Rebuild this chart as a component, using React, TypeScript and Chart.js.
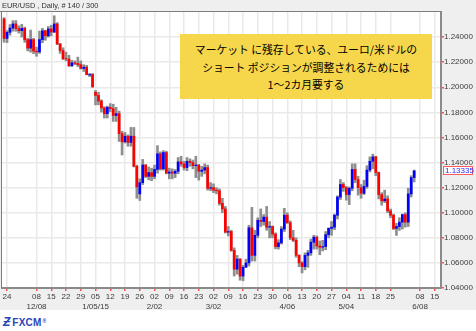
import React, { useEffect, useRef } from "react";
import { Chart, registerables } from "chart.js";

Chart.register(...registerables);

// EUR/USD daily, 140 bars (index 0 = first bar, 5 bars per week)
const opens = [
  1.2545, 1.2389, 1.2438, 1.2472, 1.2505, 1.2468, 1.2451, 1.2470, 1.2380, 1.2312,
  1.2380, 1.2288, 1.2282, 1.2380, 1.2450, 1.2410, 1.2465, 1.2440, 1.2505, 1.2345,
  1.2293, 1.2228, 1.2225, 1.2172, 1.2195, 1.2190, 1.2180, 1.2150, 1.2160, 1.2098,
  1.2102, 1.1960, 1.1935, 1.1890, 1.1835, 1.1790, 1.1840, 1.1830, 1.1775, 1.1790,
  1.1630, 1.1565, 1.1610, 1.1560, 1.1610, 1.1370, 1.1150, 1.1240, 1.1380, 1.1290,
  1.1320, 1.1290, 1.1345, 1.1470, 1.1350, 1.1480, 1.1315, 1.1325, 1.1315, 1.1330,
  1.1405, 1.1390, 1.1360, 1.1410, 1.1400, 1.1375, 1.1380, 1.1330, 1.1340, 1.1360,
  1.1195, 1.1200, 1.1180, 1.1175, 1.1075, 1.1030, 1.0845, 1.0850, 1.0700, 1.0550,
  1.0630, 1.0495, 1.0565, 1.0600, 1.0880, 1.0660, 1.0820, 1.0940, 1.0930, 1.0965,
  1.0885, 1.0890, 1.0830, 1.0730, 1.0760, 1.0870, 1.0980, 1.0920, 1.0800, 1.0780,
  1.0660, 1.0600, 1.0570, 1.0660, 1.0680, 1.0765, 1.0805, 1.0735, 1.0725, 1.0730,
  1.0825, 1.0875, 1.0885, 1.0980, 1.1125, 1.1225, 1.1200, 1.1145, 1.1195, 1.1345,
  1.1265, 1.1200, 1.1155, 1.1210, 1.1340, 1.1410, 1.1445, 1.1320, 1.1145, 1.1095,
  1.1110, 1.1015, 1.0980, 1.0875, 1.0890, 1.0925, 1.0985, 1.0925, 1.1150, 1.1280,
];

const highs = [
  1.2555, 1.2452, 1.2500, 1.2531, 1.2532, 1.2490, 1.2502, 1.2480, 1.2390, 1.2456,
  1.2390, 1.2320, 1.2448, 1.2470, 1.2455, 1.2485, 1.2494, 1.2570, 1.2515, 1.2350,
  1.2315, 1.2280, 1.2255, 1.2215, 1.2210, 1.2240, 1.2210, 1.2180, 1.2175, 1.2110,
  1.2110, 1.1975, 1.1960, 1.1900, 1.1845, 1.1850, 1.1870, 1.1865, 1.1840, 1.1810,
  1.1650, 1.1640, 1.1620, 1.1680, 1.1680, 1.1380, 1.1270, 1.1425, 1.1385, 1.1365,
  1.1355, 1.1380, 1.1535, 1.1485, 1.1495, 1.1490, 1.1355, 1.1350, 1.1345, 1.1440,
  1.1450, 1.1410, 1.1440, 1.1430, 1.1420, 1.1450, 1.1385, 1.1370, 1.1390, 1.1380,
  1.1240, 1.1230, 1.1200, 1.1190, 1.1115, 1.1050, 1.0890, 1.0860, 1.0720, 1.0660,
  1.0635, 1.0580, 1.0630, 1.0900, 1.1043, 1.0860, 1.0960, 1.1030, 1.0985, 1.1050,
  1.0930, 1.0895, 1.0840, 1.0785, 1.0890, 1.1035, 1.1000, 1.0935, 1.0860, 1.0800,
  1.0665, 1.0610, 1.0680, 1.0700, 1.0790, 1.0820, 1.0815, 1.0775, 1.0780, 1.0850,
  1.0880, 1.0930, 1.0990, 1.1135, 1.1265, 1.1240, 1.1210, 1.1205, 1.1390, 1.1390,
  1.1290, 1.1225, 1.1260, 1.1375, 1.1445, 1.1467, 1.1450, 1.1325, 1.1160, 1.1180,
  1.1135, 1.1030, 1.0990, 1.0915, 1.0960, 1.0990, 1.1000, 1.1195, 1.1295, 1.1340,
];

const lows = [
  1.2359, 1.2356, 1.2415, 1.2447, 1.2446, 1.2432, 1.2400, 1.2358, 1.2290, 1.2280,
  1.2268, 1.2247, 1.2270, 1.2355, 1.2375, 1.2400, 1.2410, 1.2436, 1.2340, 1.2270,
  1.2220, 1.2210, 1.2165, 1.2165, 1.2180, 1.2165, 1.2145, 1.2126, 1.2100, 1.2085,
  1.2000, 1.1860, 1.1860, 1.1802, 1.1755, 1.1755, 1.1805, 1.1728, 1.1728, 1.1568,
  1.1460, 1.1555, 1.1530, 1.1530, 1.1365, 1.1115, 1.1098, 1.1225, 1.1280, 1.1262,
  1.1255, 1.1270, 1.1315, 1.1340, 1.1340, 1.1310, 1.1270, 1.1270, 1.1280, 1.1310,
  1.1370, 1.1340, 1.1335, 1.1370, 1.1350, 1.1280, 1.1260, 1.1290, 1.1310, 1.1180,
  1.1175, 1.1160, 1.1150, 1.1060, 1.1000, 1.0838, 1.0815, 1.0693, 1.0495, 1.0510,
  1.0462, 1.0458, 1.0565, 1.0575, 1.0615, 1.0615, 1.0800, 1.0890, 1.0900, 1.0860,
  1.0800, 1.0800, 1.0712, 1.0710, 1.0750, 1.0850, 1.0915, 1.0785, 1.0770, 1.0645,
  1.0570, 1.0520, 1.0545, 1.0565, 1.0660, 1.0710, 1.0710, 1.0665, 1.0695, 1.0705,
  1.0800, 1.0820, 1.0865, 1.0950, 1.1105, 1.1170, 1.1100, 1.1065, 1.1175, 1.1240,
  1.1140, 1.1115, 1.1145, 1.1195, 1.1325, 1.1350, 1.1295, 1.1110, 1.1060, 1.1080,
  1.1000, 1.0960, 1.0865, 1.0819, 1.0860, 1.0870, 1.0885, 1.0890, 1.1125, 1.1245,
];

const closes = [
  1.2389, 1.2438, 1.2472, 1.2505, 1.2468, 1.2451, 1.2470, 1.2380, 1.2312, 1.2380,
  1.2288, 1.2282, 1.2380, 1.2450, 1.2410, 1.2465, 1.2440, 1.2505, 1.2345, 1.2293,
  1.2228, 1.2225, 1.2172, 1.2195, 1.2190, 1.2180, 1.2150, 1.2160, 1.2100, 1.2102,
  1.2003, 1.1935, 1.1890, 1.1835, 1.1790, 1.1840, 1.1830, 1.1775, 1.1790, 1.1630,
  1.1565, 1.1610, 1.1560, 1.1610, 1.1370, 1.1205, 1.1240, 1.1380, 1.1290, 1.1320,
  1.1290, 1.1345, 1.1470, 1.1350, 1.1480, 1.1315, 1.1325, 1.1315, 1.1330, 1.1405,
  1.1390, 1.1360, 1.1410, 1.1400, 1.1375, 1.1380, 1.1330, 1.1340, 1.1360, 1.1195,
  1.1200, 1.1180, 1.1175, 1.1075, 1.1030, 1.0845, 1.0850, 1.0700, 1.0550, 1.0630,
  1.0495, 1.0565, 1.0600, 1.0880, 1.0660, 1.0820, 1.0940, 1.0930, 1.0965, 1.0885,
  1.0890, 1.0830, 1.0730, 1.0760, 1.0870, 1.0980, 1.0920, 1.0800, 1.0780, 1.0660,
  1.0600, 1.0570, 1.0660, 1.0680, 1.0765, 1.0805, 1.0735, 1.0725, 1.0730, 1.0825,
  1.0875, 1.0885, 1.0980, 1.1125, 1.1225, 1.1200, 1.1145, 1.1195, 1.1345, 1.1265,
  1.1200, 1.1155, 1.1210, 1.1340, 1.1410, 1.1445, 1.1320, 1.1145, 1.1095, 1.1110,
  1.1015, 1.0980, 1.0875, 1.0890, 1.0925, 1.0985, 1.0925, 1.1150, 1.1280, 1.13335,
];

// x-axis ticks (bar index of each labelled Monday)
const tickIndex = [1, 11, 16, 21, 26, 31, 36, 41, 46, 51, 56, 61, 66, 71, 76, 81, 86, 91, 96, 101, 106, 111, 116, 121, 126, 131, 141, 146];
const tickDay = ["24", "08", "15", "22", "29", "05", "12", "19", "26", "02", "09", "16", "23", "02", "09", "16", "23", "30", "06", "13", "20", "27", "04", "11", "18", "25", "08", "15"];
const tickMonth = ["", "12/08", "", "", "", "1/05/15", "", "", "", "2/02", "", "", "", "3/02", "", "", "", "", "4/06", "", "", "", "5/04", "", "", "", "6/08", ""];

const yTicks = [1.04, 1.06, 1.08, 1.1, 1.12, 1.14, 1.16, 1.18, 1.2, 1.22, 1.24];

const titleText = "EUR/USD , Daily, # 140 / 300";
const noteLines = ["マーケット に残存している、ユーロ/米ドルの", "ショート ポジションが調整されるためには", "1～2カ月要する"];

const TICK_FONT = { family: "'Liberation Sans', Arial, sans-serif", size: 8 };

const bgPlugin = {
  id: "bg",
  beforeDraw(chart: any) {
    const { ctx, chartArea: a } = chart;
    ctx.save();
    ctx.fillStyle = "#efefef";
    ctx.fillRect(0, 0, chart.width, chart.height);
    ctx.fillStyle = "#ffffff";
    ctx.fillRect(a.left, a.top, a.right - a.left, a.bottom - a.top);
    ctx.restore();
  },
  afterDraw(chart: any) {
    const { ctx, chartArea: a } = chart;
    ctx.save();
    ctx.strokeStyle = "#7c7c7c";
    ctx.lineWidth = 1;
    ctx.beginPath();
    ctx.moveTo(0, a.top - 0.5);
    ctx.lineTo(a.right, a.top - 0.5);
    ctx.moveTo(a.left - 0.5, a.top);
    ctx.lineTo(a.left - 0.5, a.bottom);
    ctx.stroke();
    ctx.restore();
  },
};

const pricePlugin = {
  id: "price",
  afterDraw(chart: any) {
    const { ctx, chartArea: a } = chart;
    const last = closes[closes.length - 1];
    const y = Math.round(chart.scales.y.getPixelForValue(last));
    const x = Math.round(a.right) + 2;
    ctx.save();
    ctx.fillStyle = "#ffffff";
    ctx.fillRect(x, y - 5, 30, 9);
    ctx.strokeStyle = "#ff5a5a";
    ctx.lineWidth = 1;
    ctx.strokeRect(x + 0.5, y - 4.5, 29, 8);
    ctx.fillStyle = "#2b2bff";
    ctx.font = "8px 'Liberation Sans', Arial, sans-serif";
    ctx.textBaseline = "middle";
    ctx.fillText(last.toFixed(5), x + 2, y);
    ctx.restore();
  },
};

export default function App() {
  const ref = useRef<HTMLCanvasElement>(null);

  useEffect(() => {
    const canvas = ref.current;
    if (!canvas) return;
    const idx = closes.map((_, i) => i);
    const chart = new Chart(canvas, {
      type: "bar",
      data: {
        datasets: [
          {
            label: "range",
            data: idx.map((i) => ({ x: i, y: [lows[i], highs[i]] })) as any,
            backgroundColor: "#8e8e8e",
            barThickness: 2,
            grouped: false,
            order: 2,
          } as any,
          {
            label: "body",
            data: idx.map((i) => ({ x: i, y: [opens[i], closes[i]] })) as any,
            backgroundColor: idx.map((i) => (closes[i] >= opens[i] ? "#0000ff" : "#ff0000")),
            barThickness: 2,
            grouped: false,
            order: 1,
          } as any,
        ],
      },
      options: {
        responsive: false,
        animation: false,
        maintainAspectRatio: false,
        layout: { padding: { left: 2, top: 12, right: 0, bottom: 0 } },
        plugins: { legend: { display: false }, tooltip: { enabled: false }, title: { display: false } },
        scales: {
          x: {
            type: "linear",
            min: -0.7,
            max: 148.1,
            offset: false,
            afterBuildTicks: (s: any) => {
              s.ticks = tickIndex.map((v) => ({ value: v }));
            },
            afterFit: (s: any) => {
              s.height = 22;
            },
            ticks: {
              autoSkip: false,
              maxRotation: 0,
              minRotation: 0,
              padding: 1,
              color: "#3a3a3a",
              font: TICK_FONT,
              callback: (_v: any, i: number) => (tickMonth[i] ? [tickDay[i], tickMonth[i]] : tickDay[i]),
            },
            grid: { color: "#e9e9e9", lineWidth: 1.5, tickColor: "#ff5050", tickLength: 3, offset: false },
            border: { display: true, color: "#8a8a8a", width: 2 },
          } as any,
          y: {
            position: "right",
            min: 1.04,
            max: 1.26,
            afterBuildTicks: (s: any) => {
              s.ticks = yTicks.map((v) => ({ value: v }));
            },
            afterFit: (s: any) => {
              s.width = 35;
            },
            ticks: {
              padding: 0,
              color: "#3a3a3a",
              font: TICK_FONT,
              callback: (v: any) => Number(v).toFixed(5),
            },
            grid: { color: "#e9e9e9", lineWidth: 1.5, tickColor: "#ff5050", tickLength: 3 },
            border: { display: true, color: "#8a8a8a", width: 2 },
          } as any,
        },
      },
      plugins: [bgPlugin, pricePlugin],
    });
    return () => chart.destroy();
  }, []);

  return (
    <div style={{ position: "fixed", left: 0, top: 0, width: 476, height: 331, background: "#ffffff", overflow: "hidden" }}>
      <canvas ref={ref} width={476} height={310} style={{ position: "absolute", left: 0, top: 0, width: 476, height: 310 }} />
      <div
        style={{
          position: "absolute",
          left: 2,
          top: 0,
          height: 11,
          lineHeight: "11px",
          fontFamily: "'Liberation Sans', Arial, sans-serif",
          fontSize: 7.4,
          color: "#333333",
          whiteSpace: "nowrap",
        }}
      >
        {titleText}
      </div>
      <div
        style={{
          position: "absolute",
          left: 180,
          top: 34,
          width: 252,
          height: 65,
          background: "#f6d74c",
          boxSizing: "border-box",
          paddingTop: 7,
          textAlign: "center",
          fontFamily: "'Noto Sans CJK JP', 'Noto Sans', sans-serif",
          fontSize: 10.8,
          lineHeight: "17.5px",
          color: "#000000",
          whiteSpace: "nowrap",
        }}
      >
        {noteLines.map((t, i) => (
          <div key={i}>{t}</div>
        ))}
      </div>
      <div
        style={{
          position: "absolute",
          left: 3,
          top: 314,
          height: 14,
          lineHeight: "14px",
          fontFamily: "'Liberation Sans', Arial, sans-serif",
          fontWeight: 700,
          color: "#2a44b8",
          whiteSpace: "nowrap",
        }}
      >
        <span style={{ fontSize: 12, fontStyle: "italic" }}>Ƶ</span>
        <span style={{ fontSize: 10, marginLeft: 2, letterSpacing: 0.2 }}>FXCM</span>
        <span style={{ fontSize: 5, verticalAlign: "top", marginLeft: 1 }}>®</span>
      </div>
    </div>
  );
}
